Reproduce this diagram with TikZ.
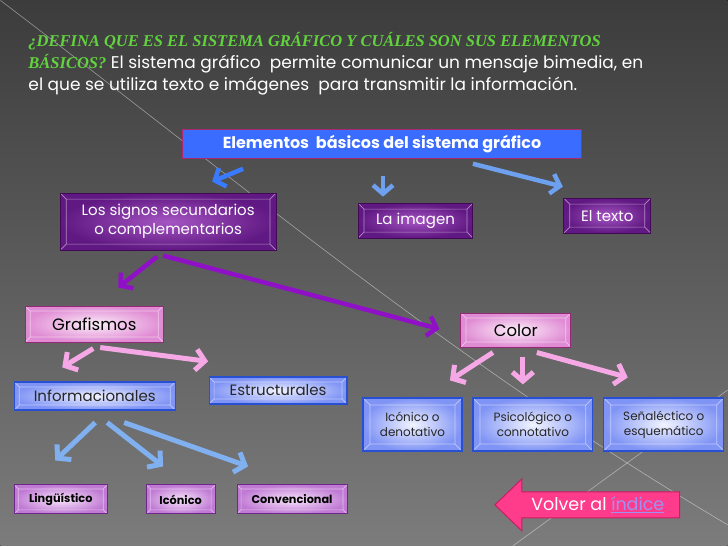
\documentclass[tikz,border=0pt]{standalone}
\usepackage{fontspec}
\setmainfont{Poppins}
\newfontfamily\titlefont{Liberation Serif}
\usetikzlibrary{arrows.meta,calc}
\definecolor{bgtop}{RGB}{60,60,60}
\definecolor{bgbot}{RGB}{124,124,124}
\definecolor{titlegreen}{RGB}{98,210,62}
\definecolor{elemblue}{RGB}{58,108,255}
\definecolor{elemrim}{RGB}{170,40,110}
\definecolor{purpin}{RGB}{165,85,195}
\definecolor{purpout}{RGB}{96,24,130}
\definecolor{purprim}{RGB}{66,10,86}
\definecolor{pinkin}{RGB}{252,238,249}
\definecolor{pinkout}{RGB}{224,140,212}
\definecolor{pinkrim}{RGB}{150,40,120}
\definecolor{bluein}{RGB}{242,244,255}
\definecolor{blueout}{RGB}{128,148,245}
\definecolor{bluerim}{RGB}{40,80,210}
\definecolor{lilacin}{RGB}{248,230,251}
\definecolor{lilacout}{RGB}{192,122,212}
\definecolor{lilacrim}{RGB}{110,40,140}
\definecolor{arrblue}{RGB}{58,122,255}
\definecolor{arrsky}{RGB}{110,160,240}
\definecolor{arrpurple}{RGB}{144,16,200}
\definecolor{arrpink}{RGB}{246,168,230}
\definecolor{arrlight}{RGB}{128,176,240}
\definecolor{volverpink}{RGB}{255,60,140}
\definecolor{volverrim}{RGB}{200,30,100}
\definecolor{linkblue}{RGB}{160,144,240}
\begin{document}
\begin{tikzpicture}[x=1pt,y=-1pt,
bevel/.style={path picture={
  \draw[white,opacity=0.5,line width=0.7pt]
    ($(path picture bounding box.north west)+(#1,#1)$) rectangle ($(path picture bounding box.south east)+(-#1,-#1)$)
    (path picture bounding box.north west) -- ++(#1,#1)
    (path picture bounding box.north east) -- ++(-#1,#1)
    (path picture bounding box.south west) -- ++(#1,-#1)
    (path picture bounding box.south east) -- ++(-#1,-#1);}},
bevel/.default=5,
elembox/.style={rectangle, fill=elemblue, draw=elemrim, line width=1.2pt, text=white, font=\fontsize{16}{18}\selectfont\bfseries},
purpbox/.style={rectangle, inner color=purpin, outer color=purpout, draw=purprim, line width=1pt, bevel=6, text=white, align=center, font=\fontsize{15}{19}\selectfont},
pinkbox/.style={rectangle, inner color=pinkin, outer color=pinkout, draw=pinkrim, line width=1pt, bevel, text=black, font=\fontsize{16.5}{18}\selectfont},
bluebox/.style={rectangle, inner color=bluein, outer color=blueout, draw=bluerim, line width=1.2pt, bevel, text=black!85, align=center, font=\fontsize{15}{17}\selectfont},
subbox/.style={rectangle, inner color=bluein, outer color=blueout, draw=bluerim, line width=1.2pt, bevel=7, text=black!85, align=center, font=\fontsize{12}{15}\selectfont},
lilacbox/.style={rectangle, inner color=lilacin, outer color=lilacout, draw=lilacrim, line width=1pt, bevel=4, text=black, font=\fontsize{11.3}{13}\selectfont\bfseries},
bluearr/.style={draw=#1, line width=4.5pt, -{Straight Barb[length=8.5pt,width=20pt]}},
purparr/.style={draw=arrpurple, line width=4.5pt, -{Straight Barb[length=8.5pt,width=20pt]}},
pinkarr/.style={draw=arrpink, line width=5pt, -{Straight Barb[length=9pt,width=21pt]}},
lightarr/.style={draw=arrlight, line width=5pt, -{Straight Barb[length=9pt,width=21pt]}},
]
\fill[top color=bgtop, bottom color=bgbot] (0,0) rectangle (728,546);
\draw[white, opacity=0.45, line width=0.6pt] (0,0) .. controls (250,190) and (450,360) .. (728,525);
\draw[white, opacity=0.45, line width=0.6pt] (513,546) -- (728,390);

%Nodes
\node[anchor=base west, inner sep=0pt, text=titlegreen, font=\titlefont\fontsize{16.5}{18}\selectfont\bfseries\itshape] (t1) at (28,46)
  {¿DEFINA QUE ES EL SISTEMA GRÁFICO Y CUÁLES SON SUS ELEMENTOS};
\node[anchor=base west, text=white, font=\fontsize{17}{19}\selectfont, inner sep=0pt] (t2) at (28,68)
  {{\color{titlegreen}\titlefont\fontsize{16.5}{18}\selectfont\bfseries\itshape BÁSICOS?} El sistema gráfico\ \ permite comunicar un mensaje bimedia, en};
\node[anchor=base west, text=white, font=\fontsize{17}{19}\selectfont, inner sep=0pt] (t3) at (28,90)
  {el que se utiliza texto e imágenes\ \ para transmitir la información.};

\node[elembox, minimum width=400pt, minimum height=29pt] (elem) at (382,143.5) {Elementos\ \ básicos del sistema gráfico};
\node[purpbox, minimum width=216pt, minimum height=57pt] (signos) at (168,221.5) {Los signos secundarios\\o complementarios};
\node[purpbox, minimum width=115pt, minimum height=35pt] (imagen) at (415.5,220.5) {La imagen};
\node[purpbox, minimum width=87pt, minimum height=35pt] (texto) at (607.5,215.5) {El texto};
\node[pinkbox, minimum width=138pt, minimum height=36pt] (graf) at (94,324) {Grafismos};
\node[pinkbox, minimum width=110pt, minimum height=34pt] (color) at (516,330) {Color};
\node[bluebox, minimum width=161pt, minimum height=28pt] (info) at (94.5,396) {Informacionales};
\node[bluebox, minimum width=138pt, minimum height=27pt] (estru) at (278,390.5) {Estructurales};
\node[lilacbox, minimum width=93pt, minimum height=29pt] (ling) at (60.5,499.5) {Lingüístico};
\node[lilacbox, minimum width=69pt, minimum height=29pt] (iconico) at (180.5,499.5) {Icónico};
\node[lilacbox, minimum width=110pt, minimum height=29pt] (conv) at (292,499.5) {Convencional};
\node[subbox, minimum width=99pt, minimum height=53pt] (icd) at (412.5,424.5) {Icónico o\\denotativo};
\node[subbox, minimum width=120pt, minimum height=53pt] (psi) at (533,424.5) {Psicológico o\\connotativo};
\node[subbox, minimum width=120pt, minimum height=53pt] (sen) at (664,424.5) {Señaléctico o\\esquemático};

\fill[volverpink, draw=volverrim, line width=1pt] (495,505) -- (522,479) -- (522,492) -- (680,492) -- (680,518) -- (522,518) -- (522,531) -- cycle;
\node[text=white, font=\fontsize{17.5}{19}\selectfont] (volver) at (598,505) {Volver al {\color{linkblue}\underline{índice}}};

\draw[bluearr=arrblue] ($(elem.south)+(-139,10)$) -- ($(signos.north)+(44,-11)$);
\draw[bluearr=arrsky] ($(elem.south)+(1,17)$) -- ($(imagen.north)+(-32.5,-6)$);
\draw[bluearr=arrsky] ($(elem.south)+(91,5)$) -- ($(texto.north)+(-44.5,-11)$);
\draw[purparr] ($(signos.south)+(-11,6)$) -- ($(graf.north)+(24,-18)$);
\draw[purparr] ($(signos.south)+(-5,5)$) -- ($(color.west)+(-21,-1)$);
\draw[pinkarr] ($(graf.south)+(-1,6)$) -- ($(info.north)+(-32.5,-14)$);
\draw[pinkarr] ($(graf.south)+(6,5)$) -- ($(estru.north)+(-70,-15)$);
\draw[lightarr] ($(info.south)+(0.5,12)$) -- ($(ling.north)+(-5.5,-24)$);
\draw[lightarr] ($(info.south)+(12.5,12)$) -- ($(iconico.north)+(-17.5,-18)$);
\draw[lightarr] ($(info.south)+(29.5,12)$) -- ($(conv.north)+(-44,-18)$);
\draw[pinkarr] ($(color.south)+(-23,5)$) -- ($(icd.north)+(37.5,-17)$);
\draw[pinkarr] ($(color.south)+(7,9)$) -- ($(psi.north)+(-10,-13)$);
\draw[pinkarr] ($(color.south)+(21,5)$) -- ($(sen.north)+(-36,-20)$);
\end{tikzpicture}
\end{document}
